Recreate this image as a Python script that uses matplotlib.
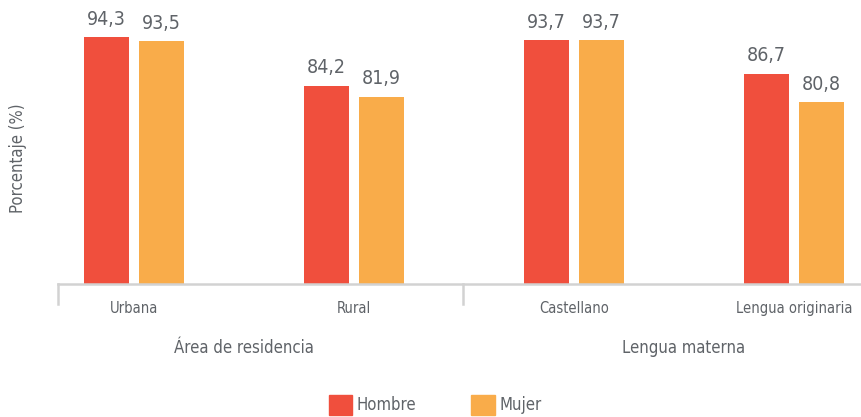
import matplotlib.pyplot as plt
from matplotlib.patches import Patch
import numpy as np

# datos
categorias = ['Urbana', 'Rural', 'Castellano', 'Lengua originaria']
grupos = ['Área de residencia', 'Lengua materna']
hombre = [94.3, 84.2, 93.7, 86.7]
mujer = [93.5, 81.9, 93.7, 80.8]

rojo = '#F04F3D'
naranja = '#F9AC4A'
gris = '#5f6368'

plt.rcParams['font.family'] = ['DejaVu Sans']
plt.rcParams['font.stretch'] = 'condensed'

fig = plt.figure(figsize=(8.62, 4.17), dpi=100)
ax = fig.add_axes([58 / 862, 1 - 284 / 417, 1 - 58 / 862, 284 / 417])

x = np.arange(len(categorias))
ancho = 0.205
b1 = ax.bar(x - 0.125, hombre, ancho, color=rojo)
b2 = ax.bar(x + 0.125, mujer, ancho, color=naranja)

for barras in (b1, b2):
    for b in barras:
        ax.annotate(f'{b.get_height():.1f}'.replace('.', ','),
                    (b.get_x() + b.get_width() / 2, b.get_height()),
                    xytext=(0, 6), textcoords='offset points',
                    ha='center', va='bottom', fontsize=14, color=gris)

ax.set_ylim(43, 102)
ax.set_xlim(-0.345, 3.31)
ax.set_yticks([])
ax.set_xticks([])
for lado in ['top', 'right', 'left']:
    ax.spines[lado].set_visible(False)
ax.spines['bottom'].set_color('#d2d2d2')
ax.spines['bottom'].set_linewidth(1.8)

# separadores verticales
for xs in [-0.345, 1.495]:
    ax.plot([xs, xs], [0, -0.07], transform=ax.get_xaxis_transform(),
            color='#d2d2d2', lw=1.8, clip_on=False)

# etiquetas de categorias y grupos
for i, c in enumerate(categorias):
    ax.text(i, -0.085, c, transform=ax.get_xaxis_transform(),
            ha='center', va='center', fontsize=10.5, color=gris)
for i, g in enumerate(grupos):
    ax.text(2 * i + 0.5, -0.225, g, transform=ax.get_xaxis_transform(),
            ha='center', va='center', fontsize=12, color=gris)

fig.text(0.021, 0.62, 'Porcentaje (%)', rotation=90, ha='center', va='center',
         fontsize=12, color=gris)

fig.legend(handles=[Patch(color=rojo, label='Hombre'), Patch(color=naranja, label='Mujer')],
           loc='lower center', bbox_to_anchor=(0.505, -0.03), ncol=2, frameon=False,
           handlelength=1.4, handleheight=1.4, handletextpad=0.3, columnspacing=3.3,
           fontsize=12, labelcolor=gris)

fig.savefig('out.png', dpi=100)
